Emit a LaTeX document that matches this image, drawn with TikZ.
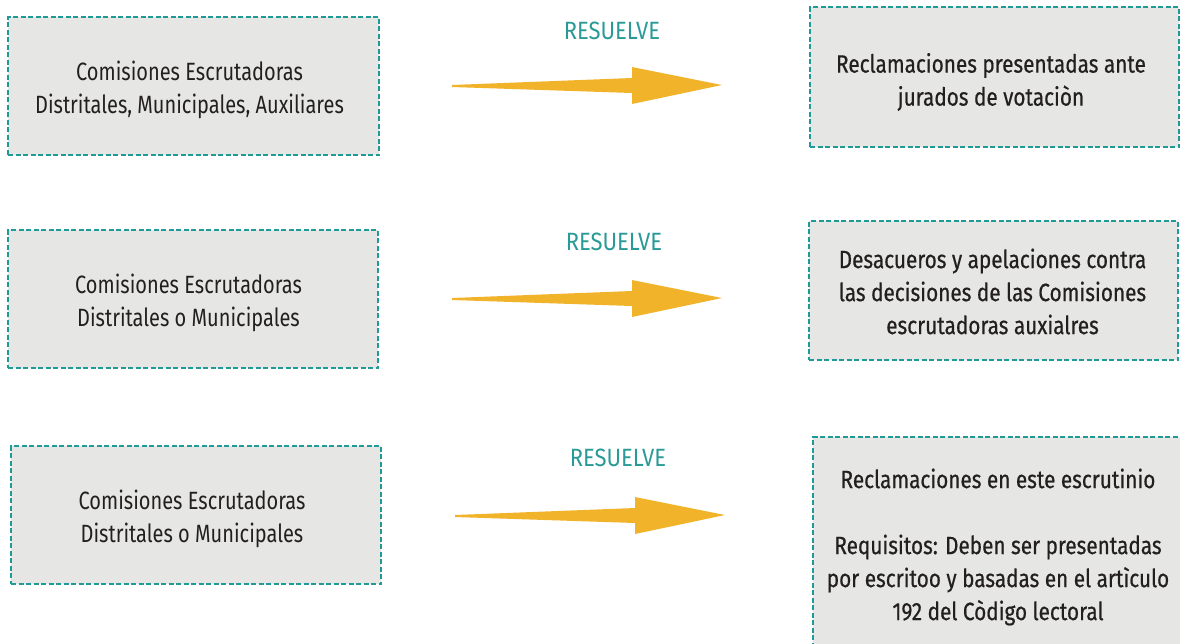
\documentclass[tikz,border=0pt]{standalone}
\usepackage{fontspec}
\setmainfont{Fira Sans}[FakeStretch=0.8]
\newfontfamily\medfont{Fira Sans}[FakeStretch=0.83,FakeBold=0.6]
\newfontfamily\labfont{Fira Sans}[FakeStretch=0.88]
\usetikzlibrary{calc}
\definecolor{boxfill}{HTML}{E6E7E5}
\definecolor{boxline}{HTML}{1F9A96}
\definecolor{arrowc}{HTML}{F0B32A}
\definecolor{txt}{HTML}{231F20}
\definecolor{teal}{HTML}{2A9A96}
\tikzset{
  cbox/.style={draw=boxline, fill=boxfill, line width=2.2pt, dash pattern=on 5pt off 2.5pt, inner sep=0pt},
  ltext/.style={align=center, text=txt, font=\fontsize{25}{33}\selectfont, inner sep=0pt},
  rtext/.style={ltext, font=\medfont\fontsize{25}{33}\selectfont},
  reslabel/.style={text=teal, font=\labfont\fontsize{25}{28}\selectfont, inner sep=0pt},
}
\newcommand{\tarrow}[2]{%
  \fill[arrowc] (#1) ++(0,-1) -- ($(#2)+(-90,-7)$) -- ($(#2)+(-90,-18)$) -- (#2)
    -- ($(#2)+(-90,19)$) -- ($(#2)+(-90,8)$) -- ($(#1)+(0,1)$) -- cycle;}
\begin{document}
\begin{tikzpicture}[x=1pt,y=-1pt]
\useasboundingbox (0,0) rectangle (1180,643);
% left boxes
\node[cbox, minimum width=371pt, minimum height=138pt] (l1) at (193.5,86) {};
\node[cbox, minimum width=370pt, minimum height=138pt] (l2) at (193,299) {};
\node[cbox, minimum width=370pt, minimum height=138pt] (l3) at (196,515) {};
\node[ltext] (l1t) at ($(l1)+(-4,4)$) {Comisiones Escrutadoras\\Distritales, Municipales, Auxiliares};
\node[ltext] (l2t) at ($(l2)+(-4.5,4)$) {Comisiones Escrutadoras\\Distritales o Municipales};
\node[ltext] (l3t) at ($(l3)+(-4,3.5)$) {Comisiones Escrutadoras\\Distritales o Municipales};
% right boxes
\node[cbox, minimum width=369pt, minimum height=140pt] (r1) at (994.5,77) {};
\node[cbox, minimum width=369pt, minimum height=139pt] (r2) at (993.5,290.5) {};
\node[cbox, minimum width=377pt, minimum height=218pt] (r3) at (1001.5,546) {};
\node[rtext] (r1t) at ($(r1)+(-3.5,5)$) {Reclamaciones presentadas ante\\jurados de votaciòn};
\node[rtext] (r2t) at ($(r2)+(-1,1)$) {Desacueros y apelaciones contra\\las decisiones de las Comisiones\\escrutadoras auxialres};
\node[rtext] (r3t) at ($(r3)+(-3.5,1)$) {Reclamaciones en este escrutinio\\[33pt]Requisitos: Deben ser presentadas\\por escritoo y basadas en el artìculo\\192 del Còdigo lectoral};
% labels
\node[reslabel] (t1) at (612,31) {RESUELVE};
\node[reslabel] (t2) at (614,242) {RESUELVE};
\node[reslabel] (t3) at (618,458) {RESUELVE};
% arrows
\coordinate (a1s) at (452,86); \coordinate (a1e) at (722,85);
\coordinate (a2s) at (452,299); \coordinate (a2e) at (722,298);
\coordinate (a3s) at (455,516); \coordinate (a3e) at (725,515);
\tarrow{a1s}{a1e}
\tarrow{a2s}{a2e}
\tarrow{a3s}{a3e}
\end{tikzpicture}
\end{document}
